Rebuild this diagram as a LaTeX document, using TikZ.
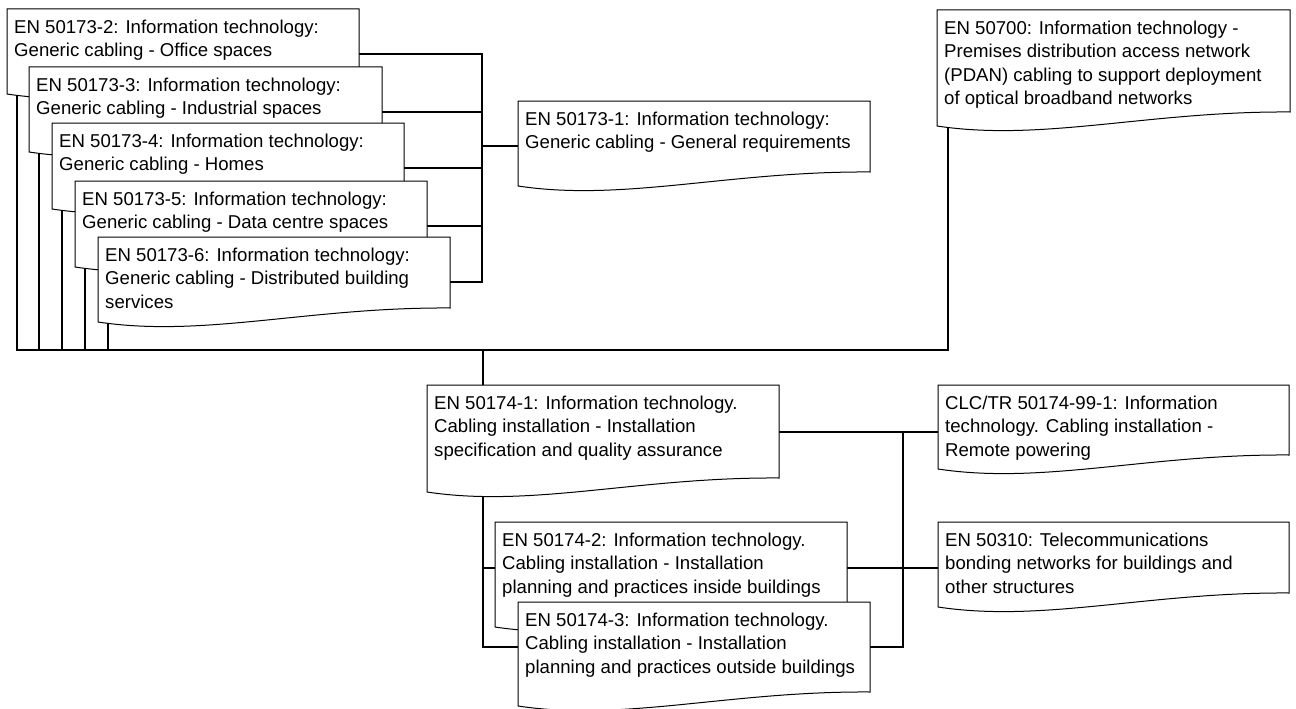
\documentclass[tikz,border=0pt]{standalone}
\usepackage{fontspec}
\setmainfont{Liberation Sans}
\usetikzlibrary{backgrounds}
\newcommand{\docfont}{\fontsize{18.6}{23.5}\selectfont}
\tikzset{
  docline/.style={draw=black, line width=1pt, fill=white, line join=miter},
  doctext/.style={inner sep=0pt, anchor=north west, font=\docfont},
  link/.style={draw=black, line width=2.2pt, line cap=rect},
}
% document box: name, x, y, width, height at left edge, text
\newcommand{\docbox}[6]{%
  \draw[docline] (#2,#3) -- ++(#4,0) -- ++(0,#5-14)
    .. controls +(-0.4*#4,-1) and +(0.3*#4,16) .. (#2,#3+#5) -- cycle;
  \node[doctext, minimum width=#4pt, minimum height=#5pt-14pt] (#1) at (#2,#3)
    {\parbox[c][\dimexpr#5pt-14pt\relax][t]{\dimexpr#4pt-14pt\relax}{\raggedright\rule{0pt}{24pt}#6}};%
}

\begin{document}
\begin{tikzpicture}[x=1pt, y=-1pt]
  \useasboundingbox (0,0) rectangle (1296,709);

  % EN 50173 family
  \docbox{A2}{7}{9}{352}{85}{EN 50173-2: Information technology:\\Generic cabling - Office spaces}
  \docbox{A3}{29}{67}{353}{85}{EN 50173-3: Information technology:\\Generic cabling - Industrial spaces}
  \docbox{A4}{52}{123}{352}{86}{EN 50173-4: Information technology:\\Generic cabling - Homes}
  \docbox{A5}{75}{181}{352}{86}{EN 50173-5: Information technology:\\Generic cabling - Data centre spaces}
  \docbox{A6}{98}{237}{352}{85}{EN 50173-6: Information technology:\\Generic cabling - Distributed building\\services}
  \docbox{A1}{518}{101}{352}{85}{EN 50173-1: Information technology:\\Generic cabling - General requirements}

  % PDAN
  \docbox{P}{937}{10}{353}{116}{EN 50700: Information technology -\\Premises distribution access network\\(PDAN) cabling to support deployment\\of optical broadband networks}

  % EN 50174 family
  \docbox{B1}{427}{385}{352}{107}{EN 50174-1: Information technology.\\Cabling installation - Installation\\specification and quality assurance}
  \docbox{B2}{495}{522}{352}{105}{EN 50174-2: Information technology.\\Cabling installation - Installation\\planning and practices inside buildings}
  \docbox{B3}{518}{602}{352}{104}{EN 50174-3: Information technology.\\Cabling installation - Installation\\planning and practices outside buildings}

  % related documents
  \docbox{C}{938}{385}{351}{84}{CLC/TR 50174-99-1: Information\\technology. Cabling installation -\\Remote powering}
  \docbox{D}{938}{522}{351}{85}{EN 50310: Telecommunications\\bonding networks for buildings and\\other structures}

  \begin{scope}[on background layer]
    \coordinate (hubA) at (482,146);
    \coordinate (busB) at (0,350);
    \coordinate (hubC) at (903,0);

    % premises parts to the general part
    \foreach \n/\y in {A2/54, A3/112, A4/168, A5/226, A6/282}
      \draw[link] (\n.east |- 0,\y) -- (hubA |- 0,\y);
    \draw[link] (hubA |- 0,54) -- (hubA |- 0,282);
    \draw[link] (hubA) -- (A1.west |- hubA);

    % common bus
    \foreach \n in {A2,A3,A4,A5,A6}
      \draw[link] ([xshift=10pt]\n.south west) -- ([xshift=10pt]\n.south west |- busB);
    \draw[link] ([xshift=10pt]A2.south west |- busB) -- ([xshift=11pt]P.south west |- busB);
    \draw[link] ([xshift=11pt]P.south west) -- ([xshift=11pt]P.south west |- busB);
    \draw[link] ([xshift=56pt]B1.north west) -- ([xshift=56pt]B1.north west |- busB);

    % installation parts
    \draw[link] ([xshift=56pt]B1.south west) |- (B3.west);
    \draw[link] ([xshift=56pt]B1.south west |- B2.west) -- (B2.west);
    \draw[link] (B1.east) -- (C.west |- B1.east);
    \draw[link] (B2.east) -- (D.west |- B2.east);
    \draw[link] (B3.east) -- (hubC |- B3.east);
    \draw[link] (hubC |- B1.east) -- (hubC |- B3.east);
  \end{scope}
\end{tikzpicture}
\end{document}
